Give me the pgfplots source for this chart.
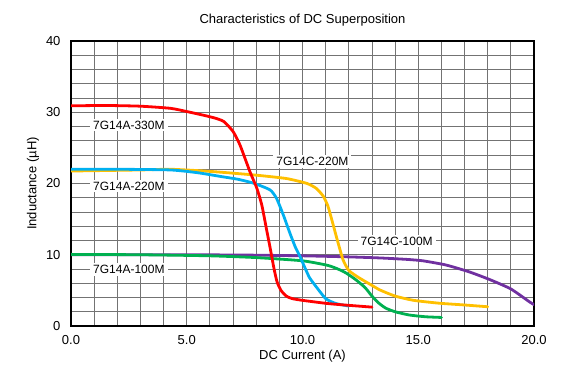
\documentclass[border=0pt]{standalone}
\usepackage{fontspec}
\setmainfont{Liberation Sans}
\usepackage{pgfplots}
\pgfplotsset{compat=1.18}
\definecolor{cred}{RGB}{255,0,0}
\definecolor{cblue}{RGB}{0,176,240}
\definecolor{cyellow}{RGB}{255,192,0}
\definecolor{cgreen}{RGB}{0,176,80}
\definecolor{cpurple}{RGB}{112,48,160}
\definecolor{gridgray}{RGB}{115,115,115}
\tikzset{clabel/.style={fill=white, inner xsep=3pt, inner ysep=2pt, font=\fontsize{12}{14}\selectfont}}
\begin{document}
\begin{tikzpicture}
\begin{axis}[
  at={(71pt,41pt)}, anchor=south west,
  scale only axis, width=463pt, height=285pt,
  xmin=0, xmax=20, ymin=0, ymax=40,
  xtick={0,5,10,15,20}, ytick={0,10,20,30,40},
  xticklabels={0.0,5.0,10.0,15.0,20.0},
  yticklabels={0,10,20,30,40},
  minor x tick num=4, minor y tick num=4,
  grid=both,
  major grid style={line width=0.9pt, color=gridgray},
  minor grid style={line width=0.9pt, color=gridgray},
  major tick length=0pt, minor tick length=0pt,
  axis line style={line width=2.2pt, black},
  ticklabel style={font=\fontsize{13}{15}\selectfont},
  x tick label style={yshift=-6pt},
  y tick label style={xshift=-7pt},
  title={Characteristics of DC Superposition},
  title style={at={(axis description cs:0.5,1.051)}, anchor=center, font=\fontsize{13}{15}\selectfont},
  xlabel={DC Current (A)},
  xlabel style={at={(axis description cs:0.5,-0.105)}, anchor=center, font=\fontsize{13}{15}\selectfont},
  ylabel={Inductance (µH)},
  ylabel style={at={(axis description cs:-0.082,0.5)}, anchor=center, font=\fontsize{13}{15}\selectfont},
  every axis plot/.append style={line width=2.8pt, line join=round, line cap=round, smooth, tension=0.35},
]
% 7G14C-100M
\addplot[cpurple] coordinates {(0,10.0) (5,10.0) (7.7,9.95) (10,9.85) (12,9.7) (13.35,9.55) (14.5,9.35) (15.2,9.15) (16.2,8.56) (17.2,7.6) (18.1,6.5) (19,5.2) (19.8,3.4) (20,3.0)};
% 7G14C-220M
\addplot[cyellow] coordinates {(0,21.75) (3,21.9) (4.3,22.0) (6,21.7) (7.9,21.2) (9.3,20.7) (10.2,20.0) (10.6,19.3) (10.9,18.2) (11.1,16.8) (11.3,14.5) (11.5,12.1) (11.75,9.3) (12.0,7.8) (12.4,6.85) (13,5.7) (13.35,5.05) (14,4.2) (14.8,3.6) (15.9,3.2) (17,2.95) (18,2.7)};
% 7G14A-100M
\addplot[cgreen] coordinates {(0,10.05) (3,10.0) (6,9.85) (8,9.6) (10,9.15) (11.1,8.5) (11.6,7.9) (11.9,7.4) (12.3,6.5) (12.7,5.4) (13.0,4.2) (13.3,3.2) (13.6,2.5) (14.0,2.0) (14.6,1.55) (15.3,1.3) (16,1.2)};
% 7G14A-220M
\addplot[cblue] coordinates {(0,22.0) (2,22.0) (4.3,21.9) (5.5,21.5) (6.44,21.0) (7.2,20.6) (7.88,20.05) (8.6,19.1) (8.88,17.9) (9.17,15.6) (9.46,13) (9.7,11) (9.9,9.7) (10.1,8.2) (10.3,6.8) (10.5,5.9) (11.0,3.85) (11.45,3.15) (12.0,2.8)};
% 7G14A-330M
\addplot[cred] coordinates {(0,30.9) (1.5,30.95) (3,30.85) (4.3,30.55) (5.0,30.1) (5.7,29.6) (6.2,29.2) (6.6,28.7) (7.0,27.3) (7.3,25.4) (7.73,21.65) (8.02,19.4) (8.24,17) (8.45,13.5) (8.6,11) (8.76,8.2) (8.9,6.2) (9.07,5.0) (9.3,4.2) (9.55,3.85) (10,3.6) (11.1,3.15) (12,2.9) (13,2.65)};
\node[clabel] at (axis cs:2.5,28.2) {7G14A-330M};
\node[clabel] at (axis cs:2.5,19.65) {7G14A-220M};
\node[clabel] at (axis cs:2.5,7.9) {7G14A-100M};
\node[clabel] at (axis cs:10.43,23.06) {7G14C-220M};
\node[clabel] at (axis cs:14.07,11.93) {7G14C-100M};
\end{axis}
\pgfresetboundingbox
\path (0,0) rectangle (572pt,367pt);
\end{tikzpicture}
\end{document}
